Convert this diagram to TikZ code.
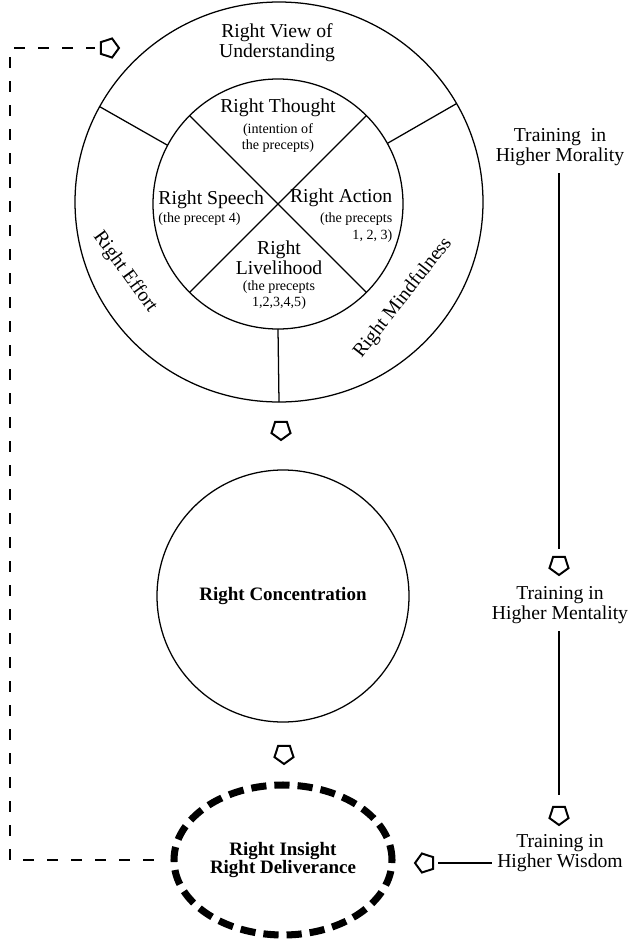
\documentclass[tikz,border=0pt]{standalone}
\usepackage{fontspec}
\setmainfont{Liberation Serif}
\usetikzlibrary{positioning, shapes.geometric}

\begin{document}
\begin{tikzpicture}[
        lbl/.style={font=\fontsize{14}{14}\selectfont, align=center, inner sep=1pt},
        sub/.style={font=\fontsize{10}{11.5}\selectfont, align=center, inner sep=1pt},
        hd/.style={font=\fontsize{13.5}{13.5}\selectfont\bfseries, align=center},
        ring/.style={draw, line width=0.9pt, inner sep=0pt, outer sep=0pt},
        conn/.style={line width=0.9pt},
        loopline/.style={line width=0.8pt, dash pattern=on 0.27cm off 0.33cm},
        tip/.style={regular polygon, regular polygon sides=5, draw, line width=1.4pt,
                    inner sep=0pt, outer sep=0pt, minimum size=0.5cm},
        tipdown/.style={tip, rotate=180},
        tipleft/.style={tip, rotate=90},
        tipright/.style={tip, rotate=-90},
      ]
        \useasboundingbox (0,0) rectangle (15.775,-23.55);

        \node[ring, ellipse, minimum width=10.2cm, minimum height=10cm] (outer) at (6.975,-5.05) {};
        \node[ring, circle, minimum size=6.25cm] (inner) at (6.95,-5.1) {};
        \draw[conn] (inner.45) -- (inner.225);
        \draw[conn] (inner.135) -- (inner.315);
        \draw[conn] (inner.152) -- (outer.152);
        \draw[conn] (inner.29) -- (outer.29);
        \draw[conn] (inner.south) -- (outer.south);

        \node[lbl] (view) at (6.925,-1.075) {Right View of\\Understanding};
        \node[lbl] (thought) at (6.95,-2.7) {Right Thought};
        \node[sub, below=2pt of thought] (thoughtsub) {(intention of\\the precepts)};
        \node[lbl, anchor=west] (speech) at (3.92,-5.0) {Right Speech};
        \node[sub, anchor=north west] (speechsub) at (speech.south west) {(the precept 4)};
        \node[lbl, anchor=east] (action) at (9.85,-4.95) {Right Action};
        \node[sub, align=right, anchor=north east] (actionsub) at ([yshift=-2pt]action.south east) {(the precepts\\1, 2, 3)};
        \node[lbl] (livelihood) at (6.975,-6.45) {Right\\Livelihood};
        \node[sub, below=2pt of livelihood] (livelihoodsub) {(the precepts\\1,2,3,4,5)};
        \node[lbl, rotate=-54] (effort) at (3.125,-6.8) {Right Effort};
        \node[lbl, rotate=52] (mindful) at (10.075,-7.45) {Right Mindfulness};

        \node[ring, circle, minimum size=6.3cm, hd] (conc) at (7.075,-14.9) {Right Concentration};
        \node[hd, draw, ellipse, line width=5pt, dash pattern=on 0.38cm off 0.2cm,
              minimum width=5.45cm, minimum height=3.75cm, inner sep=0pt] (insight) at (7.075,-21.5)
              {Right Insight\\Right Deliverance};

        \node[tipdown] (a1) at (7.025,-10.75) {};
        \node[tipdown] (a2) at (7.1,-18.85) {};
        \node[tipdown] (a3) at (13.975,-14.125) {};
        \node[tipdown] (a4) at (13.975,-20.375) {};
        \node[tipleft] (a5) at (10.625,-21.575) {};
        \node[tipright] (a6) at (2.725,-1.2) {};

        \node[lbl] (morality) at (14.0,-3.675) {Training~ in\\Higher Morality};
        \node[lbl] (mentality) at (14.0,-15.125) {Training in\\Higher Mentality};
        \node[lbl] (wisdom) at (14.0,-21.325) {Training in\\Higher Wisdom};

        \draw[conn, shorten <=0.15cm, shorten >=0.2cm] (morality.south -| a3) -- (a3);
        \draw[conn, shorten <=0.15cm, shorten >=0.3cm] (mentality.south -| a4) -- (a4);
        \draw[conn, shorten <=0.1cm, shorten >=0.12cm] (wisdom.west |- a5) -- (a5);

        \coordinate (corner) at (0.25,-1.2);
        \draw[loopline, shorten <=0.42cm, shorten >=0.15cm]
            (insight.west) -- (insight.west -| corner) -- (corner) -- (a6);
      \end{tikzpicture}
\end{document}
